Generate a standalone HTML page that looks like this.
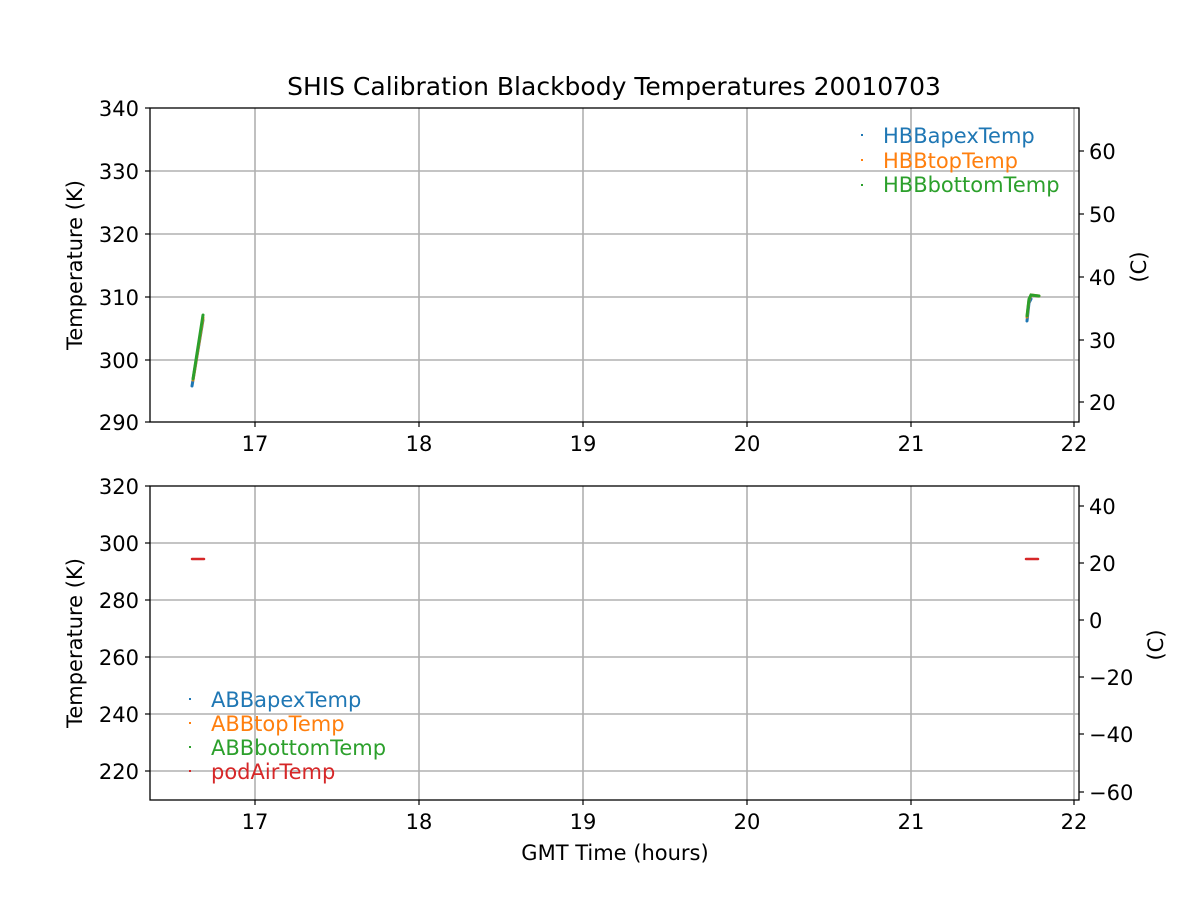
<!DOCTYPE html>
<html><head><meta charset="utf-8"><style>body{margin:0;background:#fff}svg text{font-family:"DejaVu Sans","Liberation Sans",sans-serif;fill:#000}</style></head>
<body>
<svg width="1200" height="900" xmlns="http://www.w3.org/2000/svg">
<rect width="1200" height="900" fill="#fff"/>
<text x="614" y="95" font-size="25" text-anchor="middle">SHIS Calibration Blackbody Temperatures 20010703</text>
<g stroke="#b0b0b0" stroke-width="1.6">
<line x1="255" y1="108" x2="255" y2="422"/><line x1="419" y1="108" x2="419" y2="422"/><line x1="583" y1="108" x2="583" y2="422"/><line x1="747" y1="108" x2="747" y2="422"/><line x1="911" y1="108" x2="911" y2="422"/><line x1="1074" y1="108" x2="1074" y2="422"/>
<line x1="150" y1="171" x2="1079" y2="171"/><line x1="150" y1="234" x2="1079" y2="234"/><line x1="150" y1="297" x2="1079" y2="297"/><line x1="150" y1="360" x2="1079" y2="360"/>
<line x1="255" y1="486" x2="255" y2="800"/><line x1="419" y1="486" x2="419" y2="800"/><line x1="583" y1="486" x2="583" y2="800"/><line x1="747" y1="486" x2="747" y2="800"/><line x1="911" y1="486" x2="911" y2="800"/><line x1="1074" y1="486" x2="1074" y2="800"/>
<line x1="150" y1="543" x2="1079" y2="543"/><line x1="150" y1="600" x2="1079" y2="600"/><line x1="150" y1="657" x2="1079" y2="657"/><line x1="150" y1="714" x2="1079" y2="714"/><line x1="150" y1="771" x2="1079" y2="771"/>
</g>
<g stroke-width="3" stroke-linecap="round" fill="none">
<line x1="192" y1="386" x2="203" y2="320" stroke="#1f77b4"/>
<line x1="193" y1="380" x2="203" y2="318" stroke="#ff7f0e"/>
<line x1="193" y1="379" x2="203" y2="315" stroke="#2ca02c"/>
<polyline points="1027,321 1029,303 1031,299" stroke="#1f77b4"/>
<polyline points="1027,317 1029,300 1031,295 1039,296" stroke="#ff7f0e"/>
<polyline points="1027,316 1029,299 1031,295 1039,296" stroke="#2ca02c"/>
<line x1="192" y1="559" x2="204" y2="559" stroke="#d62728" stroke-width="2.5"/>
<line x1="1026" y1="559" x2="1038" y2="559" stroke="#d62728" stroke-width="2.5"/>
</g>
<g fill="none" stroke="#000" stroke-width="1.3">
<rect x="150" y="108" width="929" height="314"/>
<rect x="150" y="486" width="929" height="314"/>
</g>
<g stroke="#000" stroke-width="1.2">
<line x1="255" y1="422" x2="255" y2="427"/><line x1="419" y1="422" x2="419" y2="427"/><line x1="583" y1="422" x2="583" y2="427"/><line x1="747" y1="422" x2="747" y2="427"/><line x1="911" y1="422" x2="911" y2="427"/><line x1="1074" y1="422" x2="1074" y2="427"/>
<line x1="255" y1="800" x2="255" y2="805"/><line x1="419" y1="800" x2="419" y2="805"/><line x1="583" y1="800" x2="583" y2="805"/><line x1="747" y1="800" x2="747" y2="805"/><line x1="911" y1="800" x2="911" y2="805"/><line x1="1074" y1="800" x2="1074" y2="805"/>
<line x1="145" y1="108" x2="150" y2="108"/><line x1="145" y1="171" x2="150" y2="171"/><line x1="145" y1="234" x2="150" y2="234"/><line x1="145" y1="297" x2="150" y2="297"/><line x1="145" y1="360" x2="150" y2="360"/><line x1="145" y1="422" x2="150" y2="422"/>
<line x1="145" y1="486" x2="150" y2="486"/><line x1="145" y1="543" x2="150" y2="543"/><line x1="145" y1="600" x2="150" y2="600"/><line x1="145" y1="657" x2="150" y2="657"/><line x1="145" y1="714" x2="150" y2="714"/><line x1="145" y1="771" x2="150" y2="771"/>
<line x1="1079" y1="151" x2="1084" y2="151"/><line x1="1079" y1="214" x2="1084" y2="214"/><line x1="1079" y1="277" x2="1084" y2="277"/><line x1="1079" y1="340" x2="1084" y2="340"/><line x1="1079" y1="402" x2="1084" y2="402"/>
<line x1="1079" y1="506" x2="1084" y2="506"/><line x1="1079" y1="563" x2="1084" y2="563"/><line x1="1079" y1="620" x2="1084" y2="620"/><line x1="1079" y1="677" x2="1084" y2="677"/><line x1="1079" y1="734" x2="1084" y2="734"/><line x1="1079" y1="792" x2="1084" y2="792"/>
</g>
<g font-size="21" text-anchor="middle">
<text x="255" y="451">17</text><text x="419" y="451">18</text><text x="583" y="451">19</text><text x="747" y="451">20</text><text x="911" y="451">21</text><text x="1074" y="451">22</text>
<text x="255" y="829">17</text><text x="419" y="829">18</text><text x="583" y="829">19</text><text x="747" y="829">20</text><text x="911" y="829">21</text><text x="1074" y="829">22</text>
<text x="615" y="860">GMT Time (hours)</text>
</g>
<g font-size="21" text-anchor="end">
<text x="139" y="116">340</text><text x="139" y="179">330</text><text x="139" y="242">320</text><text x="139" y="305">310</text><text x="139" y="368">300</text><text x="139" y="430">290</text>
<text x="139" y="494">320</text><text x="139" y="551">300</text><text x="139" y="608">280</text><text x="139" y="665">260</text><text x="139" y="722">240</text><text x="139" y="779">220</text>
</g>
<g font-size="21">
<text x="1089" y="159">60</text><text x="1089" y="222">50</text><text x="1089" y="285">40</text><text x="1089" y="348">30</text><text x="1089" y="410">20</text>
<text x="1089" y="514">40</text><text x="1089" y="571">20</text><text x="1089" y="628">0</text><text x="1089" y="685">−20</text><text x="1089" y="742">−40</text><text x="1089" y="800">−60</text>
</g>
<text font-size="21" text-anchor="middle" transform="translate(82,265) rotate(-90)">Temperature (K)</text>
<text font-size="21" text-anchor="middle" transform="translate(82,643) rotate(-90)">Temperature (K)</text>
<text font-size="21" text-anchor="middle" transform="translate(1146,267) rotate(-90)">(C)</text>
<text font-size="21" text-anchor="middle" transform="translate(1163,645) rotate(-90)">(C)</text>
<g font-size="21">
<rect x="861" y="134" width="2" height="2" fill="#1f77b4"/><text x="883" y="143" style="fill:#1f77b4">HBBapexTemp</text>
<rect x="861" y="159" width="2" height="2" fill="#ff7f0e"/><text x="883" y="168" style="fill:#ff7f0e">HBBtopTemp</text>
<rect x="861" y="184" width="2" height="2" fill="#2ca02c"/><text x="883" y="192" style="fill:#2ca02c">HBBbottomTemp</text>
<rect x="189" y="698" width="2" height="2" fill="#1f77b4"/><text x="211" y="707" style="fill:#1f77b4">ABBapexTemp</text>
<rect x="189" y="722" width="2" height="2" fill="#ff7f0e"/><text x="211" y="731" style="fill:#ff7f0e">ABBtopTemp</text>
<rect x="189" y="746" width="2" height="2" fill="#2ca02c"/><text x="211" y="755" style="fill:#2ca02c">ABBbottomTemp</text>
<rect x="189" y="770" width="2" height="2" fill="#d62728"/><text x="211" y="779" style="fill:#d62728">podAirTemp</text>
</g>
</svg>
</body></html>
